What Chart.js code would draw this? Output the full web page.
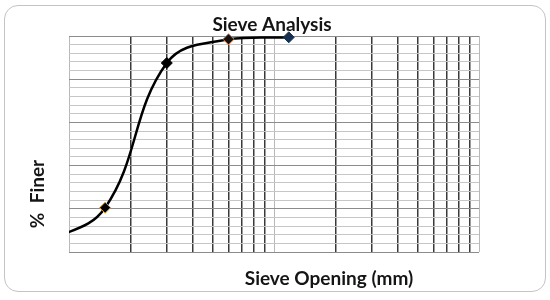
<!DOCTYPE html>
<html lang="en">
<head>
    <meta charset="UTF-8">
    <title>Sieve Analysis</title>
    <script src="https://cdn.jsdelivr.net/npm/chart.js"></script>
    <style>
        body { margin: 0; background: #fff; overflow: hidden; }
        .wrap { position: relative; width: 550px; height: 300px; }
        .card {
            position: absolute; left: 4px; top: 5px; width: 540px; height: 285px;
            border: 1.5px solid #c4c4c4; border-radius: 14px;
        }
        canvas { position: absolute; left: 0; top: 0; }
    </style>
</head>
<body>
    <div class="wrap">
        <div class="card"></div>
        <canvas id="sieveChart" width="550" height="300"></canvas>
    </div>

    <script>
        // sieve sizes (mm) and percent passing
        const sieveSizes = [0.075, 0.15, 0.3, 0.6, 1.18];
        const percentFiner = [4, 20.5, 87.5, 98.5, 99.4];

        // log grid lines: 0.1 .. 10 mm
        const xGridValues = [0.1, 0.2, 0.3, 0.4, 0.5, 0.6, 0.7, 0.8, 0.9, 1, 2, 3, 4, 5, 6, 7, 8, 9, 10];
        const yMin = 0, yMax = 100, yStep = 4;

        const chartTitle = 'Sieve Analysis';
        const xTitle = 'Sieve Opening (mm)';
        const yTitle = '%  Finer';

        const textPlugin = {
            id: 'axisText',
            afterDraw(chart) {
                const { ctx, chartArea } = chart;
                ctx.save();
                ctx.fillStyle = '#151515';
                ctx.font = 'bold 19px Lato';
                ctx.textAlign = 'center';
                ctx.textBaseline = 'alphabetic';
                ctx.fillText(chartTitle, chartArea.left + 203, chartArea.top - 5);
                ctx.fillText(xTitle, chartArea.left + 260, chartArea.bottom + 33);
                ctx.translate(chartArea.left - 25, chartArea.top + 158);
                ctx.rotate(-Math.PI / 2);
                ctx.fillText(yTitle, 0, 0);
                ctx.restore();
            }
        };

        const ctx = document.getElementById('sieveChart').getContext('2d');
        new Chart(ctx, {
            type: 'line',
            data: {
                datasets: [{
                    label: '% Finer',
                    data: sieveSizes.map((s, i) => ({ x: s, y: percentFiner[i] })),
                    borderColor: '#000',
                    borderWidth: 2.5,
                    tension: 0.4,
                    pointStyle: 'rectRot',
                    pointRadius: [0, 5.5, 5.5, 5.5, 5.5],
                    pointBorderWidth: 1,
                    pointBackgroundColor: ['#000', '#000', '#000', '#111', '#17304f'],
                    pointBorderColor: ['#000', '#d9a640', '#000', '#c9784a', '#17304f'],
                    clip: { left: 0, top: 10, right: 10, bottom: 0 },
                }],
            },
            options: {
                responsive: false,
                animation: false,
                layout: { padding: { left: 69, right: 71, top: 36, bottom: 48 } },
                plugins: {
                    legend: { display: false },
                    tooltip: { enabled: false },
                },
                scales: {
                    x: {
                        type: 'logarithmic',
                        min: 0.1,
                        max: 10,
                        afterBuildTicks: (scale) => {
                            scale.ticks = xGridValues.map(v => ({ value: v }));
                        },
                        ticks: { display: false, autoSkip: false },
                        border: { display: false },
                        grid: {
                            drawTicks: false,
                            color: (c) => {
                                const v = c.tick ? c.tick.value : 0;
                                if (v === 0.1 || v === 10 || v === 1) return '#b8b8b8';
                                return '#3a3a3a';
                            },
                            lineWidth: (c) => {
                                const v = c.tick ? c.tick.value : 0;
                                return (v === 0.1 || v === 10 || v === 1) ? 1 : 1.5;
                            },
                        },
                    },
                    y: {
                        z: -1,
                        min: yMin,
                        max: yMax,
                        ticks: { display: false, stepSize: yStep },
                        border: { display: false },
                        grid: {
                            drawTicks: false,
                            color: (c) => (c.tick && c.tick.value % 20 === 0) ? '#8c8c8c' : '#c6c6c6',
                            lineWidth: 1,
                        },
                    },
                },
            },
            plugins: [textPlugin],
        });
    </script>
</body>
</html>
